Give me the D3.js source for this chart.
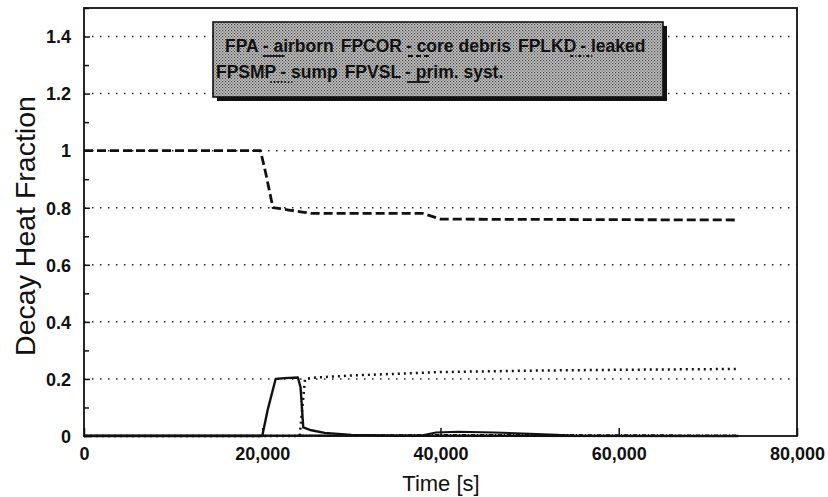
<!DOCTYPE html>
<html>
<head>
<meta charset="utf-8">
<script src="https://cdn.jsdelivr.net/npm/d3@7"></script>
<style>
  html, body { margin: 0; padding: 0; background: #fff; }
  svg text { font-family: "Liberation Sans", Arial, Helvetica, sans-serif; fill: #111; }
</style>
</head>
<body>
<svg id="chart" width="828" height="497"></svg>
<script>
// Fission product decay heat fractions vs time
const xTicks = [0, 20000, 40000, 60000, 80000];
const xTickLabels = ["0", "20,000", "40,000", "60,000", "80,000"];
const yTicks = [0, 0.2, 0.4, 0.6, 0.8, 1, 1.2, 1.4];
const yTickLabels = ["0", "0.2", "0.4", "0.6", "0.8", "1", "1.2", "1.4"];
const yMinorTicks = [0.1, 0.3, 0.5, 0.7, 0.9, 1.1, 1.3, 1.5];

// FPCOR - core debris (dashed)
const corTime  = [0, 19800, 20400, 21200, 22000, 23000, 24500, 25500, 38000, 40000, 73400];
const corValue = [1, 1, 0.92, 0.80, 0.797, 0.792, 0.785, 0.78, 0.78, 0.76, 0.757];

// FPA - airborne (solid pulse)
const fpaTime  = [0, 20000, 20600, 21500, 22500, 24000, 24300, 24600, 25500, 27000, 30000, 35000, 73400];
const fpaValue = [0, 0, 0.09, 0.2, 0.203, 0.205, 0.17, 0.03, 0.02, 0.011, 0.004, 0.001, 0];

// FPSMP - sump (dotted)
const smpTime  = [0, 24200, 24500, 24800, 26000, 30000, 35000, 40000, 50000, 60000, 73400];
const smpValue = [0, 0, 0.1, 0.2, 0.205, 0.212, 0.218, 0.224, 0.229, 0.232, 0.235];

// FPVSL - primary system (solid, small bump near 40,000 s)
const vslTime  = [0, 20000, 38000, 39500, 42000, 46000, 50000, 53000, 55000, 73400];
const vslValue = [0.002, 0.002, 0.003, 0.012, 0.015, 0.012, 0.008, 0.004, 0.001, 0.0];

// FPLKD - leaked (dash-dot)
const lkdTime  = [0, 20000, 30000, 40000, 50000, 60000, 73400];
const lkdValue = [0, 0, 0.002, 0.004, 0.004, 0.003, 0.002];

const legendRows = [
  [ {code: "FPA", label: "airborn", dash: null, shift: 4},
    {code: "FPCOR", label: "core debris", dash: "5,3", shift: 6},
    {code: "FPLKD", label: "leaked", dash: "3,2,1,2", shift: -6} ],
  [ {code: "FPSMP", label: "sump", dash: "1.5,2", shift: -6},
    {code: "FPVSL", label: "prim. syst.", dash: null, shift: 6} ]
];

const svg = d3.select("#chart");
const plotL = 84, plotR = 797, plotT = 8, plotB = 436;

const x = d3.scaleLinear().domain([0, 80000]).range([plotL, plotR]);
const y = d3.scaleLinear().domain([0, 1.5]).range([plotB, plotT]);

// gridlines
svg.append("g").selectAll("line").data(yTicks.filter(d => d > 0)).join("line")
  .attr("x1", plotL).attr("x2", plotR)
  .attr("y1", d => y(d)).attr("y2", d => y(d))
  .attr("stroke", "#222").attr("stroke-width", 1.5)
  .attr("stroke-dasharray", "1.5,6.5");

// frame
svg.append("rect").attr("x", plotL).attr("y", plotT)
  .attr("width", plotR - plotL).attr("height", plotB - plotT)
  .attr("fill", "none").attr("stroke", "#111").attr("stroke-width", 1.8);

// y axis ticks (inward) and labels
const yAxis = d3.axisRight(y).tickValues(yTicks).tickSize(6)
  .tickFormat((d, i) => yTickLabels[i]);
const gy = svg.append("g").attr("transform", `translate(${plotL},0)`).call(yAxis);
gy.select(".domain").remove();
gy.selectAll("line").attr("stroke", "#111").attr("stroke-width", 1.5);
gy.selectAll("text").attr("x", -13).attr("text-anchor", "end")
  .attr("font-size", 18).attr("font-weight", "bold").attr("dy", "0.35em");

const yMinor = d3.axisRight(y).tickValues(yMinorTicks).tickSize(5).tickFormat("");
const gyMinor = svg.append("g").attr("transform", `translate(${plotL},0)`).call(yMinor);
gyMinor.select(".domain").remove();
gyMinor.selectAll("line").attr("stroke", "#111").attr("stroke-width", 1.5);

// x axis ticks (inward) and labels
const xAxis = d3.axisTop(x).tickValues(xTicks).tickSize(8)
  .tickFormat((d, i) => xTickLabels[i]);
const gx = svg.append("g").attr("transform", `translate(0,${plotB})`).call(xAxis);
gx.select(".domain").remove();
gx.selectAll("line").attr("stroke", "#111").attr("stroke-width", 1.5);
gx.selectAll("text").attr("y", 18).attr("dy", "0.35em")
  .attr("font-size", 18).attr("font-weight", "bold");

// axis titles
svg.append("text").attr("x", 441).attr("y", 491)
  .attr("text-anchor", "middle").attr("font-size", 22)
  .text("Time [s]");
svg.append("text")
  .attr("transform", `translate(35,226) rotate(-90)`)
  .attr("text-anchor", "middle").attr("font-size", 28.5)
  .text("Decay Heat Fraction");

// series
const line = d3.line().x(d => x(d[0])).y(d => y(d[1]));
const zip = (ts, vs) => ts.map((t, i) => [t, vs[i]]);

const series = [
  {pts: zip(lkdTime, lkdValue), dash: "4,2,1,2", width: 1.8},
  {pts: zip(vslTime, vslValue), dash: null, width: 2},
  {pts: zip(smpTime, smpValue), dash: "2,4", width: 2.5},
  {pts: zip(fpaTime, fpaValue), dash: null, width: 2.4},
  {pts: zip(corTime, corValue), dash: "9,4", width: 2.8}
];
svg.append("g").selectAll("path").data(series).join("path")
  .attr("d", d => line(d.pts))
  .attr("fill", "none").attr("stroke", "#111")
  .attr("stroke-width", d => d.width)
  .attr("stroke-dasharray", d => d.dash)
  .attr("stroke-linejoin", "round");

// legend box with stippled fill and drop shadow
const defs = svg.append("defs");
const pat = defs.append("pattern").attr("id", "stipple")
  .attr("width", 3).attr("height", 3).attr("patternUnits", "userSpaceOnUse");
pat.append("rect").attr("width", 3).attr("height", 3).attr("fill", "#c4c4c4");
pat.append("rect").attr("x", 0).attr("y", 0).attr("width", 1.2).attr("height", 1.2).attr("fill", "#444");
pat.append("rect").attr("x", 1.5).attr("y", 1.5).attr("width", 1.2).attr("height", 1.2).attr("fill", "#555");

const lg = {x: 213, y: 22, w: 450, h: 75};
svg.append("rect").attr("x", lg.x + 4).attr("y", lg.y + 4)
  .attr("width", lg.w).attr("height", lg.h).attr("fill", "#111");
svg.append("rect").attr("x", lg.x).attr("y", lg.y)
  .attr("width", lg.w).attr("height", lg.h)
  .attr("fill", "url(#stipple)").attr("stroke", "#111").attr("stroke-width", 1.6);

const rowY = [52, 78];
const rowX = [225, 216];
const fontSz = 17.5;
legendRows.forEach((row, r) => {
  let cx = rowX[r];
  row.forEach(item => {
    const t1 = svg.append("text").attr("x", cx).attr("y", rowY[r])
      .attr("font-size", fontSz).attr("font-weight", "bold").text(item.code);
    const w1 = t1.node().getComputedTextLength();
    const t2 = svg.append("text").attr("x", cx + w1 + 4).attr("y", rowY[r])
      .attr("font-size", fontSz).attr("font-weight", "bold").text("- " + item.label);
    const w2 = t2.node().getComputedTextLength();
    // line-style sample under the separator
    const sx = cx + w1 + item.shift;
    svg.append("line")
      .attr("x1", sx).attr("x2", sx + 22)
      .attr("y1", rowY[r] + 4).attr("y2", rowY[r] + 4)
      .attr("stroke", "#111").attr("stroke-width", 1.8)
      .attr("stroke-dasharray", item.dash);
    cx += w1 + 4 + w2 + 7;
  });
});
</script>
</body>
</html>
